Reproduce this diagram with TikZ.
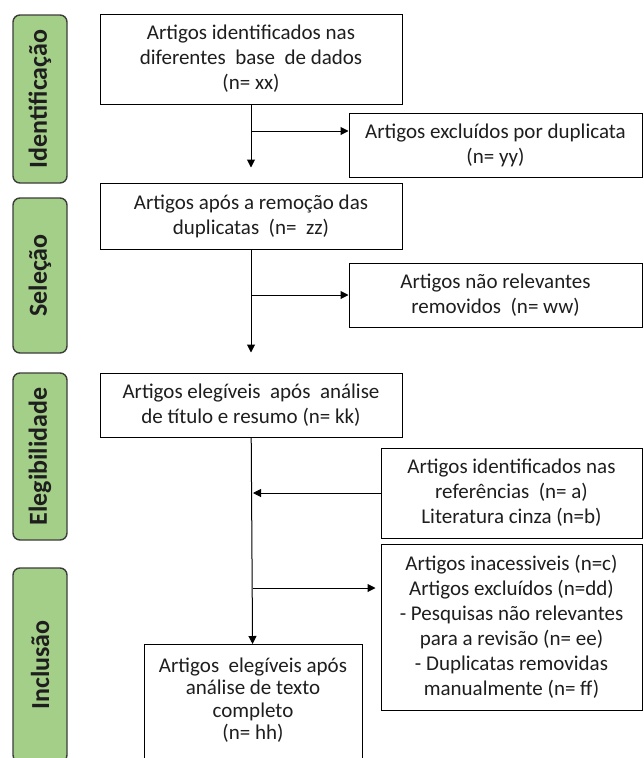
\documentclass[tikz,border=0pt]{standalone}
\usepackage{fontspec}
\setmainfont{Carlito}
\usetikzlibrary{arrows.meta}
\definecolor{verdefase}{HTML}{A4CF89}
\definecolor{bordafase}{HTML}{3C3C3C}
\definecolor{texto}{HTML}{1E1E1E}
\tikzset{
caixa/.style={draw, line width=1pt, fill=white, align=center, text=texto, inner sep=0pt, font=\fontsize{21}{25}\selectfont},
fase/.style={draw=bordafase, fill=verdefase, line width=1.4pt, rounded corners=7pt, rotate=90, inner sep=0pt, minimum height=54pt, text=texto, font=\bfseries\fontsize{26}{30}\selectfont},
seta/.style={-{Triangle[length=8pt,width=8pt]}, line width=1pt}
}
\begin{document}
\begin{tikzpicture}[x=1pt,y=-1pt]
\useasboundingbox (0,0) rectangle (643,758);

\node[fase, minimum width=168pt] (fid) at (40,99) {Identificação};
\node[fase, minimum width=155pt] (fsel) at (40,275.5) {Seleção};
\node[fase, minimum width=167pt] (fele) at (40,456.5) {Elegibilidade};
\node[fase, minimum width=194pt] (finc) at (40,665) {Inclusão};

\node[caixa, minimum width=302pt, minimum height=90pt] (b1) at (251,59) {Artigos identificados nas\\diferentes~ base~ de dados\\(n= xx)};
\node[caixa, minimum width=293pt, minimum height=64pt] (excl) at (495.5,145) {Artigos excluídos por duplicata\\(n= yy)};
\node[caixa, minimum width=302pt, minimum height=66pt] (b2) at (251,216) {Artigos após a remoção das\\duplicatas~ (n=~ zz)};
\node[caixa, minimum width=293pt, minimum height=64pt] (nrel) at (495.5,295) {Artigos não relevantes\\removidos~ (n= ww)};
\node[caixa, minimum width=302pt, minimum height=64pt] (b3) at (251,405) {Artigos elegíveis~ após~ análise\\de título e resumo (n= kk)};
\node[caixa, minimum width=261pt, minimum height=90pt] (ref) at (511.5,493) {Artigos identificados nas\\referências~ (n= a)\\Literatura cinza (n=b)};
\node[caixa, minimum width=261pt, minimum height=166pt] (inac) at (511.5,627) {Artigos inacessiveis (n=c)\\Artigos excluídos (n=dd)\\- Pesquisas não relevantes\\para a revisão (n= ee)\\- Duplicatas removidas\\manualmente (n= ff)};
\node[caixa, minimum width=218pt, inner ysep=13pt, anchor=north, font=\fontsize{21}{22.5}\selectfont] (b4) at (253,644) {Artigos~ elegíveis após\\análise de texto\\completo\\(n= hh)\\[8pt]};

\path
(251,131) coordinate (r1)
(251,295) coordinate (r2)
(253,493) coordinate (r3)
(253,588) coordinate (r4)
;
\draw[seta, shorten >=15pt] (b1) -- (b2);
\draw[seta, shorten >=20pt] (b2) -- (b3);
\draw[seta] (b3) -- (b4);
\draw[seta] (r1) -- (r1 -| excl.west);
\draw[seta] (r2) -- (r2 -| nrel.west);
\draw[seta] (ref.west) -- (r3);
\draw[seta, shorten >=5pt] (r4) -- (r4 -| inac.west);
\end{tikzpicture}
\end{document}
